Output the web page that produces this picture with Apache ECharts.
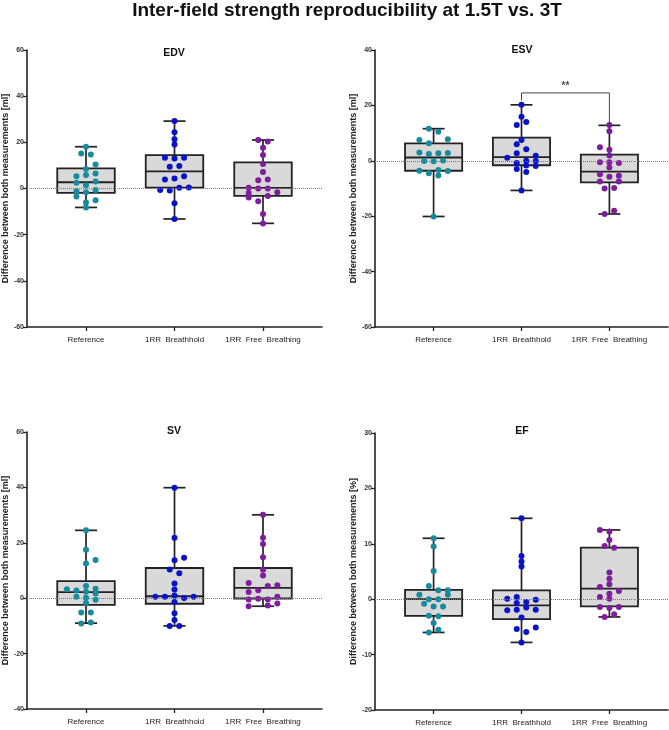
<!doctype html>
<html lang="en">
<head>
<meta charset="UTF-8" />
<title>Inter-field strength reproducibility</title>
<script src="https://cdn.jsdelivr.net/npm/echarts@6/dist/echarts.min.js"></script>
<style>html,body{margin:0;padding:0;background:#fff}</style>
</head>
<body>
<div id="chart" style="width:669px;height:730px"></div>
<script>
const categories = ['Reference', '1RR  Breathhold', '1RR  Free  Breathing'];

// box stats per group: [min, Q1, median, Q3, max]
const edvBoxes = [[-8.2, -1.9, 2.7, 8.7, 18.1], [-13.2, 0.4, 7.4, 14.5, 29.2], [-15.1, -3.2, 0.3, 11.3, 21.0]];
const esvBoxes = [[-20.1, -3.6, 1.2, 6.3, 11.6], [-10.7, -1.6, 1.3, 8.4, 20.2], [-19.2, -7.8, -3.9, 2.2, 12.8]];
const svBoxes = [[-9.0, -2.4, 2.2, 6.2, 24.5], [-10.0, -2.0, 0.7, 10.9, 39.9], [-2.9, -0.1, 3.7, 10.9, 30.1]];
const efBoxes = [[-6.0, -3.0, 0, 1.7, 11.0], [-7.8, -3.6, -1.1, 1.6, 14.6], [-3.2, -1.3, 1.9, 9.3, 12.5]];

// individual points: [lane, value]  (lane = jitter slot around the group)
const edvPoints = [
  [[0,18.1],[-1,15.2],[1,14.7],[2,10.4],[0,8.5],[-2,5.3],[0,5.8],[2,6.5],[-2,2.5],[0,1.4],[2,3.0],[-2,-1.2],[0,-1.6],[2,-0.6],[-2,-3.5],[0,-6.1],[2,-5.1],[0,-8.2]],
  [[0,29.2],[0,24.4],[0,21.3],[0,19.1],[-2,13.3],[0,13.0],[2,13.3],[-1,9.4],[1,9.7],[-2,3.9],[0,4.3],[2,5.3],[-3,-0.7],[-1,-0.9],[1,0.3],[3,0.4],[0,-6.4],[0,-13.2]],
  [[-1,21.0],[1,20.4],[0,17.6],[0,14.5],[0,10.6],[0,7.2],[-1,3.6],[1,3.9],[-3,0.3],[-1,0],[1,0],[-3,-1.9],[3,-1.6],[-3,-3.9],[1,-3.2],[-1,-5.5],[0,-11.0],[0,-15.2]]
];
const esvPoints = [
  [[-1,11.6],[1,10.5],[-3,7.5],[3,7.8],[-1,6.3],[-3,3.0],[-1,2.5],[1,2.7],[3,2.8],[-2,-0.1],[0,-0.2],[2,0.1],[-3,-3.6],[1,-3.3],[3,-3.7],[-1,-4.5],[1,-5.3],[0,-20.1]],
  [[0,20.2],[0,15.9],[-1,12.9],[1,14.0],[0,7.5],[-1,6.0],[1,4.2],[-1,2.7],[-3,1.1],[3,1.8],[1,0],[-1,-0.8],[3,-0.1],[3,-1.9],[1,-1.7],[-1,-3.0],[1,-4.0],[0,-10.7]],
  [[0,12.9],[0,10.7],[-2,4.9],[0,4.0],[0,1.9],[-2,-0.5],[0,-0.5],[2,-0.8],[0,-2.4],[-2,-4.9],[0,-5.8],[2,-5.4],[-2,-7.5],[2,-7.5],[-1,-10.0],[1,-9.8],[1,-18.0],[-1,-19.2]]
];
const svPoints = [
  [[0,24.5],[0,17.5],[2,13.8],[0,12.5],[-4,3.2],[-2,2.8],[0,4.4],[2,3.4],[0,2.3],[2,1.7],[-2,0.5],[0,0.2],[2,-0.6],[0,-1.7],[-1,-5.2],[1,-5.2],[-1,-9.1],[1,-8.8]],
  [[0,39.9],[0,21.8],[0,13.7],[2,14.6],[-1,10.4],[1,9.0],[0,5.3],[0,3.1],[-4,0.5],[-2,0.5],[0,1.0],[2,0.1],[4,0.5],[0,-1.4],[0,-5.4],[0,-7.9],[-1,-10.0],[1,-10.0]],
  [[0,30.1],[0,21.8],[0,19.6],[0,14.8],[0,10.3],[0,8.2],[-3,5.5],[-3,2.2],[-1,2.9],[1,4.4],[3,4.7],[-3,-0.5],[-1,-0.2],[1,-0.5],[3,0.5],[3,-1.9],[-3,-2.9],[1,-2.6]]
];
const efPoints = [
  [[0,11.0],[0,9.5],[0,5.1],[-1,2.4],[-3,0.8],[1,1.6],[3,1.6],[3,0.8],[-1,0],[1,0],[-2,-0.8],[0,-1.3],[2,-1.3],[-1,-3.0],[1,-3.1],[0,-4.3],[1,-5.5],[-1,-6.0]],
  [[0,14.6],[0,7.8],[0,6.8],[0,5.9],[-3,0.1],[-1,0.4],[-1,-0.7],[1,-0.5],[3,-0.1],[1,-1.5],[-3,-2.0],[-1,-1.9],[3,-1.9],[0,-3.3],[-1,-5.4],[3,-5.1],[1,-5.9],[0,-7.8]],
  [[-2,12.5],[0,12.2],[0,10.7],[-1,9.6],[1,9.3],[0,4.8],[0,3.7],[0,2.7],[-2,2.2],[2,1.5],[0,1.0],[-2,0.4],[0,0.1],[-2,-1.4],[2,-1.4],[0,-1.6],[1,-2.7],[-1,-3.2]]
];

// ESV significance bracket: [x, y] corners, and its label
const esvBracket = [[1, 21.8], [1, 24.5], [2, 24.5], [2, 13.6]];
const esvBracketLabel = '**';

const panels = [
  { title: 'EDV', unit: '[ml]', boxes: edvBoxes, points: edvPoints, min: -60, max: 60, interval: 20 },
  { title: 'ESV', unit: '[ml]', boxes: esvBoxes, points: esvPoints, min: -60, max: 40, interval: 20 },
  { title: 'SV', unit: '[ml]', boxes: svBoxes, points: svPoints, min: -40, max: 60, interval: 20 },
  { title: 'EF', unit: '[%]', boxes: efBoxes, points: efPoints, min: -20, max: 30, interval: 10 }
];

const groupColors = ['#178a9c', '#0b12c6', '#7e1e9c'];
const FONT = 'Liberation Sans, Arial, sans-serif';
const LANE = 0.054;
const BOX_W = 0.65;
const CAP_W = 0.25;
const DARK = '#222';

const grids = [
  { left: 27, top: 50, width: 295, height: 277 },
  { left: 375, top: 50, width: 293, height: 277 },
  { left: 27, top: 432, width: 295, height: 277 },
  { left: 375, top: 433, width: 293, height: 277 }
];
const titlePos = [[174, 47.5], [522, 44.5], [174, 426], [522, 426]];

function renderBox(params, api) {
  const x = api.value(0);
  const lo = api.coord([x, api.value(1)]);
  const q1 = api.coord([x, api.value(2)]);
  const med = api.coord([x, api.value(3)]);
  const q3 = api.coord([x, api.value(4)]);
  const hi = api.coord([x, api.value(5)]);
  const half = api.size([BOX_W, 0])[0] / 2;
  const cap = api.size([CAP_W, 0])[0] / 2;
  const line = (x1, y1, x2, y2, w) => ({
    type: 'line',
    shape: { x1, y1, x2, y2 },
    style: { stroke: DARK, lineWidth: w }
  });
  return {
    type: 'group',
    children: [
      line(lo[0], lo[1], hi[0], hi[1], 1.7),
      line(lo[0] - cap, lo[1], lo[0] + cap, lo[1], 1.7),
      line(hi[0] - cap, hi[1], hi[0] + cap, hi[1], 1.7),
      {
        type: 'rect',
        shape: { x: q3[0] - half, y: q3[1], width: half * 2, height: q1[1] - q3[1] },
        style: { fill: '#d9d9d9', stroke: DARK, lineWidth: 1.8 }
      },
      line(med[0] - half, med[1], med[0] + half, med[1], 1.8)
    ]
  };
}

const option = {
  animation: false,
  backgroundColor: '#fff',
  title: [
    {
      text: 'Inter-field strength reproducibility at 1.5T vs. 3T',
      left: 347, top: 1, textAlign: 'center', padding: 0,
      textStyle: { fontSize: 19, fontWeight: 'bold', color: '#111', fontFamily: FONT }
    }
  ].concat(panels.map((p, i) => ({
    text: p.title,
    left: titlePos[i][0], top: titlePos[i][1], textAlign: 'center', padding: 0,
    textStyle: { fontSize: 10.5, fontWeight: 'bold', color: '#111', fontFamily: FONT }
  }))),
  grid: grids,
  xAxis: panels.map((p, i) => ({
    gridIndex: i,
    type: 'value',
    min: -2 / 3,
    max: 8 / 3,
    axisLine: { show: true, onZero: false, lineStyle: { color: DARK, width: 1.6 } },
    axisTick: { show: true, customValues: [0, 1, 2], length: 4, lineStyle: { color: DARK, width: 1.3 } },
    axisLabel: {
      customValues: [0, 1, 2],
      formatter: (v) => categories[Math.round(v)],
      fontSize: 8, color: '#222', margin: 9, fontFamily: FONT
    },
    splitLine: { show: false }
  })),
  yAxis: panels.map((p, i) => ({
    gridIndex: i,
    type: 'value',
    min: p.min,
    max: p.max,
    interval: p.interval,
    name: 'Difference between both measurements ' + p.unit,
    nameLocation: 'middle',
    nameGap: 17,
    nameTextStyle: { fontSize: 9, fontWeight: 'bold', color: '#222', fontFamily: FONT },
    axisLine: { show: true, onZero: false, lineStyle: { color: DARK, width: 1.6 } },
    axisTick: { show: true, length: 4, lineStyle: { color: DARK, width: 1.3 } },
    axisLabel: { fontSize: 7, fontWeight: 'bold', color: '#333', margin: 3, fontFamily: FONT },
    splitLine: { show: false }
  })),
  series: []
};

panels.forEach((p, i) => {
  option.series.push({
    type: 'custom',
    xAxisIndex: i,
    yAxisIndex: i,
    z: 2,
    renderItem: renderBox,
    encode: { x: 0, y: [1, 2, 3, 4, 5] },
    data: p.boxes.map((b, g) => [g].concat(b)),
    markLine: {
      silent: true,
      symbol: 'none',
      label: { show: false },
      lineStyle: { type: 'dotted', color: '#777', width: 1 },
      data: [{ yAxis: 0 }]
    }
  });
  p.points.forEach((pts, g) => {
    option.series.push({
      type: 'scatter',
      xAxisIndex: i,
      yAxisIndex: i,
      z: 3,
      symbolSize: 6,
      itemStyle: { color: groupColors[g], opacity: 1 },
      data: pts.map((pt) => [g + pt[0] * LANE, pt[1]])
    });
  });
});

option.series.push({
  type: 'line',
  xAxisIndex: 1,
  yAxisIndex: 1,
  z: 4,
  symbol: 'none',
  lineStyle: { color: '#444', width: 1 },
  data: esvBracket
});
option.series.push({
  type: 'scatter',
  xAxisIndex: 1,
  yAxisIndex: 1,
  symbolSize: 0,
  label: {
    show: true, position: 'inside', formatter: esvBracketLabel,
    fontSize: 10, fontWeight: 'bold', color: '#222', fontFamily: FONT
  },
  data: [[1.5, 26.8]]
});

const chart = echarts.init(document.getElementById('chart'));
chart.setOption(option);
</script>
</body>
</html>
